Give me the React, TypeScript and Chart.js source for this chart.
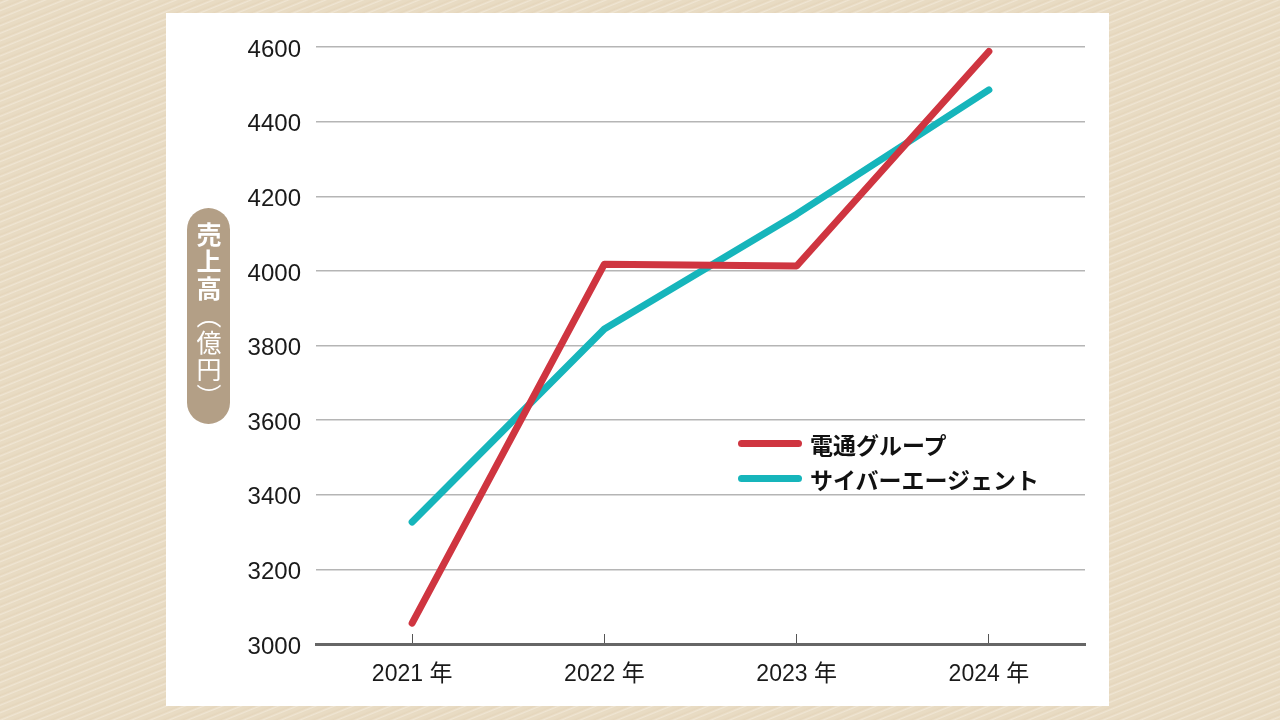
import { useEffect, useRef } from 'react';
import { Chart, registerables } from 'chart.js';

Chart.register(...registerables);

const years = ['2021 年', '2022 年', '2023 年', '2024 年'];
const dentsuSales = [3056, 4018, 4013, 4588];
const cyberAgentSales = [3327, 3844, 4152, 4485];
const seriesNames = ['電通グループ', 'サイバーエージェント'];
const seriesColors = ['#cf3540', '#16b5bb'];

const yMin = 3000;
const yMax = 4600;
const yStep = 200;

export default function App() {
  const canvasRef = useRef<HTMLCanvasElement>(null);
  const chartRef = useRef<Chart | null>(null);

  useEffect(() => {
    document.body.style.margin = '0';
    if (!canvasRef.current) return;
    const ctx = canvasRef.current.getContext('2d');
    if (!ctx) return;

    chartRef.current = new Chart(ctx, {
      type: 'line',
      data: {
        labels: years,
        datasets: [
          {
            label: seriesNames[0],
            data: dentsuSales,
            borderColor: seriesColors[0],
            borderWidth: 7,
            borderCapStyle: 'round',
            borderJoinStyle: 'round',
            pointRadius: 0,
            tension: 0,
            clip: false
          },
          {
            label: seriesNames[1],
            data: cyberAgentSales,
            borderColor: seriesColors[1],
            borderWidth: 7,
            borderCapStyle: 'round',
            borderJoinStyle: 'round',
            pointRadius: 0,
            tension: 0,
            clip: false
          }
        ]
      },
      options: {
        responsive: false,
        animation: false,
        layout: {
          padding: { left: 64, right: 24, top: 34, bottom: 0 }
        },
        plugins: {
          legend: { display: false },
          tooltip: { enabled: false }
        },
        scales: {
          x: {
            offset: true,
            grid: {
              display: true,
              drawOnChartArea: false,
              drawTicks: true,
              tickLength: -10,
              tickColor: '#555',
              tickWidth: 1,
              offset: false
            },
            border: { display: true, color: '#666', width: 3 },
            ticks: {
              color: '#1a1a1a',
              padding: 27,
              font: { family: '"Liberation Sans", Arial, "Noto Sans CJK JP", sans-serif', size: 23 }
            },
            afterFit: (scale: any) => {
              scale.height = 62;
            }
          },
          y: {
            min: yMin,
            max: yMax,
            grid: {
              color: '#b5b5b5',
              lineWidth: 1.5,
              drawTicks: false
            },
            border: { display: false },
            ticks: {
              stepSize: yStep,
              color: '#1a1a1a',
              padding: 15,
              labelOffset: 3,
              callback: (value: any) => String(value),
              font: { family: '"Liberation Sans", Arial, sans-serif', size: 24 }
            },
            afterFit: (scale: any) => {
              scale.width = 86;
            }
          }
        }
      }
    });

    return () => {
      if (chartRef.current) {
        chartRef.current.destroy();
        chartRef.current = null;
      }
    };
  }, []);

  return (
    <div
      style={{
        position: 'relative',
        width: 1280,
        height: 720,
        overflow: 'hidden',
        background:
          'repeating-linear-gradient(-22deg, #e8dbc3 0px, #e8dbc3 2px, #efe5d3 3px, #e5d6bc 5px, #e8dbc3 7px)'
      }}
    >
      <div
        style={{
          position: 'absolute',
          left: 166,
          top: 13,
          width: 943,
          height: 693,
          background: '#fff'
        }}
      >
        <canvas ref={canvasRef} width={943} height={693} style={{ display: 'block' }} />
        <div
          style={{
            position: 'absolute',
            left: 21,
            top: 195,
            width: 43,
            height: 216,
            borderRadius: 22,
            background: '#b39f86',
            color: '#fff',
            display: 'flex',
            alignItems: 'center',
            justifyContent: 'center',
            fontFamily: '"Noto Sans CJK JP", sans-serif',
            fontSize: 25,
            lineHeight: 1
          }}
        >
          <div style={{ writingMode: 'vertical-rl', letterSpacing: 2 }}>
            <span style={{ fontWeight: 700 }}>売上高</span>
            <span style={{ fontWeight: 400 }}>（億円）</span>
          </div>
        </div>
        <div
          style={{
            position: 'absolute',
            left: 572,
            top: 413,
            fontFamily: '"Noto Sans CJK JP", sans-serif',
            fontWeight: 700,
            fontSize: 23,
            color: '#111'
          }}
        >
          {seriesNames.map((name, i) => (
            <div key={name} style={{ display: 'flex', alignItems: 'center', height: 35 }}>
              <div
                style={{
                  width: 64,
                  height: 7,
                  borderRadius: 4,
                  background: seriesColors[i],
                  marginRight: 8
                }}
              />
              <span>{name}</span>
            </div>
          ))}
        </div>
      </div>
    </div>
  );
}
